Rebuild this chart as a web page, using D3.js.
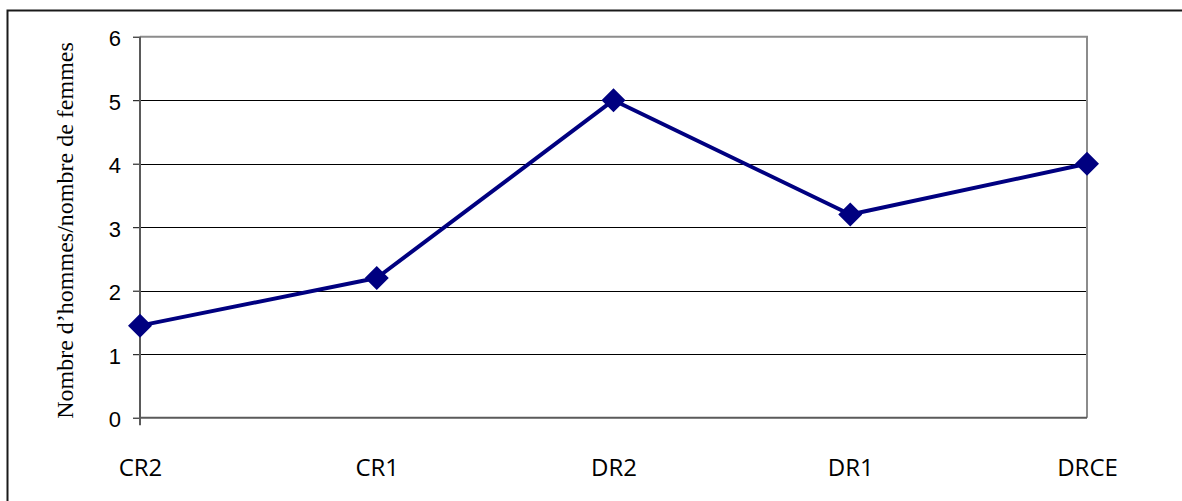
<!DOCTYPE html>
<html>
<head>
<meta charset="utf-8">
<script src="https://cdn.jsdelivr.net/npm/d3@7"></script>
<style>
  html, body { margin: 0; padding: 0; background: #fff; }
  svg { display: block; }
</style>
</head>
<body>
<svg id="chart" width="1182" height="501"></svg>
<script>
// Ratio of men to women per grade
const categories = ["CR2", "CR1", "DR2", "DR1", "DRCE"];
const ratios = [1.45, 2.2, 5, 3.2, 4];
const yTicks = [0, 1, 2, 3, 4, 5, 6];
const yTitle = "Nombre d\u2019hommes/nombre de femmes";

const svg = d3.select("#chart");
const plot = { left: 140, right: 1087, top: 36.7, bottom: 417.7 };

const x = d3.scalePoint().domain(categories).range([plot.left, plot.right]);
const y = d3.scaleLinear().domain([0, 6]).range([plot.bottom, plot.top]);

// outer frame (runs past the right and bottom edges)
svg.append("rect")
  .attr("x", 7.5).attr("y", 10.5)
  .attr("width", 1300).attr("height", 700)
  .attr("fill", "none").attr("stroke", "#1a1a1a").attr("stroke-width", 2);

// horizontal gridlines
svg.append("g").selectAll("line")
  .data(yTicks.filter(t => t > 0 && t < 6))
  .join("line")
  .attr("x1", plot.left).attr("x2", plot.right)
  .attr("y1", d => Math.round(y(d)) + 0.5).attr("y2", d => Math.round(y(d)) + 0.5)
  .attr("stroke", "#000").attr("stroke-width", 1);

// plot area border (top and right)
svg.append("path")
  .attr("d", `M${plot.left},${y(6)}H${plot.right}V${plot.bottom}`)
  .attr("fill", "none").attr("stroke", "#8c8c8c").attr("stroke-width", 2);

// y axis with outward ticks
const yAxis = d3.axisLeft(y).tickValues(yTicks).tickSize(7).tickPadding(12)
  .tickFormat(d3.format("d"));
const gy = svg.append("g").attr("transform", `translate(${plot.left},0)`).call(yAxis);
gy.select(".domain").remove();
gy.selectAll(".tick line").attr("stroke", "#000").attr("stroke-width", 1);
gy.selectAll(".tick text")
  .attr("font-family", "'Liberation Sans', Arial, sans-serif")
  .attr("font-size", 22).attr("fill", "#000").attr("dy", "0.42em");

// value axis line, extending slightly below the category axis
svg.append("line")
  .attr("x1", plot.left).attr("x2", plot.left)
  .attr("y1", plot.top).attr("y2", plot.bottom + 7.5)
  .attr("stroke", "#5a5a5a").attr("stroke-width", 2);

// category axis line
svg.append("line")
  .attr("x1", plot.left).attr("x2", plot.right)
  .attr("y1", plot.bottom).attr("y2", plot.bottom)
  .attr("stroke", "#5a5a5a").attr("stroke-width", 2);

// category labels
const xAxis = d3.axisBottom(x).tickSize(0).tickPadding(0);
const gx = svg.append("g").attr("transform", `translate(0,${plot.bottom})`).call(xAxis);
gx.select(".domain").remove();
gx.selectAll(".tick text")
  .attr("font-family", "'Open Sans', sans-serif")
  .attr("font-size", 24).attr("fill", "#000")
  .attr("dy", 0).attr("y", 58.5);

// y axis title
svg.append("text")
  .attr("transform", `translate(73,${(40 + 421) / 2}) rotate(-90)`)
  .attr("text-anchor", "middle")
  .attr("font-family", "'Liberation Serif', 'Times New Roman', serif")
  .attr("font-size", 24)
  .attr("fill", "#000")
  .text(yTitle);

// series line
const data = categories.map((c, i) => ({ c, v: ratios[i] }));
svg.append("path")
  .datum(data)
  .attr("d", d3.line().x(d => x(d.c)).y(d => y(d.v)))
  .attr("fill", "none").attr("stroke", "#000080").attr("stroke-width", 4)
  .attr("stroke-linejoin", "round");

// diamond markers
const r = 12;
svg.append("g").selectAll("path")
  .data(data)
  .join("path")
  .attr("d", d => {
    const cx = x(d.c), cy = y(d.v);
    return `M${cx},${cy - r}L${cx + r},${cy}L${cx},${cy + r}L${cx - r},${cy}Z`;
  })
  .attr("fill", "#000080");
</script>
</body>
</html>
